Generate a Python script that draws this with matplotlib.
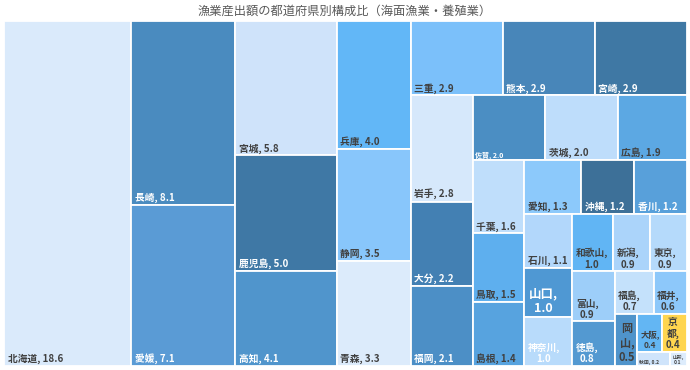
"""Treemap of fishery output share by prefecture (marine fishery + aquaculture)."""
import matplotlib
matplotlib.use("Agg")
import matplotlib.pyplot as plt
from matplotlib.patches import Rectangle

plt.rcParams["font.family"] = ["Noto Sans CJK JP", "DejaVu Sans"]

TITLE = "漁業産出額の都道府県別構成比（海面漁業・養殖業）"

prefectures = [
    "北海道", "長崎", "愛媛", "宮城", "鹿児島", "高知", "兵庫", "静岡", "青森",
    "三重", "熊本", "宮崎", "岩手", "大分", "福岡", "佐賀", "茨城", "広島",
    "千葉", "鳥取", "島根", "愛知", "沖縄", "香川", "石川", "山口", "神奈川",
    "和歌山", "新潟", "東京", "富山", "徳島", "福島", "福井", "岡山", "大阪",
    "京都", "秋田", "山形",
]
shares = [
    18.6, 8.1, 7.1, 5.8, 5.0, 4.1, 4.0, 3.5, 3.3,
    2.9, 2.9, 2.9, 2.8, 2.2, 2.1, 2.0, 2.0, 1.9,
    1.6, 1.5, 1.4, 1.3, 1.2, 1.2, 1.1, 1.0, 1.0,
    1.0, 0.9, 0.9, 0.9, 0.8, 0.7, 0.6, 0.5, 0.4,
    0.4, 0.2, 0.1,
]

# styling
tile_colors = [
    "#DAEAFB", "#4A8BBF", "#5A9BD5", "#CFE3FA", "#3F78A5", "#5095CC", "#62B7F7", "#88C6FB", "#DCEBFB",
    "#7BC0FA", "#4886B9", "#3F78A4", "#D6E8FB", "#4380B3", "#4C8FC6", "#4B8EC3", "#BEDDFB", "#5CA8E3",
    "#BFDEFB", "#5EAFEE", "#57A3DF", "#8CC9FB", "#3D7098", "#58A0DA", "#B2D7FB", "#4F98D3", "#B8DBFB",
    "#61B5F4", "#ABD4FA", "#B5DAFB", "#9DCEF9", "#5399D1", "#C4E1FB", "#8DC8FA", "#4F94CB", "#63B6F3",
    "#FFD54F", "#CFE4FB", "#DDECFC",
]
DARK = "#404040"
WHITE = "white"
label_colors = [
    DARK, WHITE, WHITE, DARK, WHITE, WHITE, DARK, DARK, DARK,
    DARK, WHITE, WHITE, DARK, WHITE, WHITE, WHITE, DARK, DARK,
    DARK, DARK, DARK, DARK, WHITE, WHITE, DARK, WHITE, WHITE,
    DARK, DARK, DARK, DARK, WHITE, DARK, DARK, DARK, DARK,
    DARK, DARK, DARK,
]
label_sizes = {"佐賀": 5, "山口": 9, "岡山": 8, "大阪": 6, "京都": 7, "秋田": 3.5, "山形": 3.5}
# 1: "name,\nvalue"   2: one character per line
label_wrap = {
    "和歌山": 1, "新潟": 1, "東京": 1, "山口": 1, "神奈川": 1, "富山": 1, "徳島": 1,
    "福島": 1, "福井": 1, "大阪": 1, "山形": 1, "岡山": 2, "京都": 2,
}

# number of tiles in each strip (the strip direction follows the free space)
strip_sizes = [1, 2, 3, 3, 3, 3, 3, 3, 3, 3, 3, 2, 2, 1, 2, 1, 1]

PLOT_W, PLOT_H = 683, 345  # plot area in pixels


def strip_layout(values, sizes, width, height):
    x, y, w, h = 0.0, 0.0, float(width), float(height)
    scale = width * height / sum(values)
    rects = []
    i = 0
    for n in sizes:
        group = values[i:i + n]
        area = sum(group) * scale
        if w >= h:  # column on the left side
            t = area / h
            yy = y
            for v in group:
                hh = v * scale / t
                rects.append((x, yy, t, hh))
                yy += hh
            x += t
            w -= t
        else:  # row along the top
            t = area / w
            xx = x
            for v in group:
                ww = v * scale / t
                rects.append((xx, y, ww, t))
                xx += ww
            y += t
            h -= t
        i += n
    return rects


def label_text(name, v):
    val = f"{v:.1f}"
    style = label_wrap.get(name, 0)
    if style == 1:
        return f"{name},\n{val}"
    if style == 2:
        return "\n".join(name) + f",\n{val}"
    return f"{name}, {val}"


fig = plt.figure(figsize=(6.9, 3.7), dpi=100)
fig.text(0.5, 1 - 11 / 370, TITLE, ha="center", va="center", fontsize=8.8, color="#595959")

ax = fig.add_axes([4 / 690, 4 / 370, PLOT_W / 690, PLOT_H / 370])
ax.set_xlim(0, PLOT_W)
ax.set_ylim(PLOT_H, 0)
ax.axis("off")

rects = strip_layout(shares, strip_sizes, PLOT_W, PLOT_H)

for (x, y, w, h), name, v, fc, tc in zip(rects, prefectures, shares, tile_colors, label_colors):
    ax.add_patch(Rectangle((x, y), w, h, facecolor=fc, edgecolor="white", linewidth=1.3))
    size = label_sizes.get(name, 7)
    pad = max(1.5, size * 0.5)
    ax.text(x + pad, y + h - pad * 0.5, label_text(name, v), ha="left", va="bottom",
            multialignment="center", fontsize=size, fontweight="bold",
            color=tc, linespacing=1.15)

fig.savefig("out.png", dpi=100)
plt.close(fig)
